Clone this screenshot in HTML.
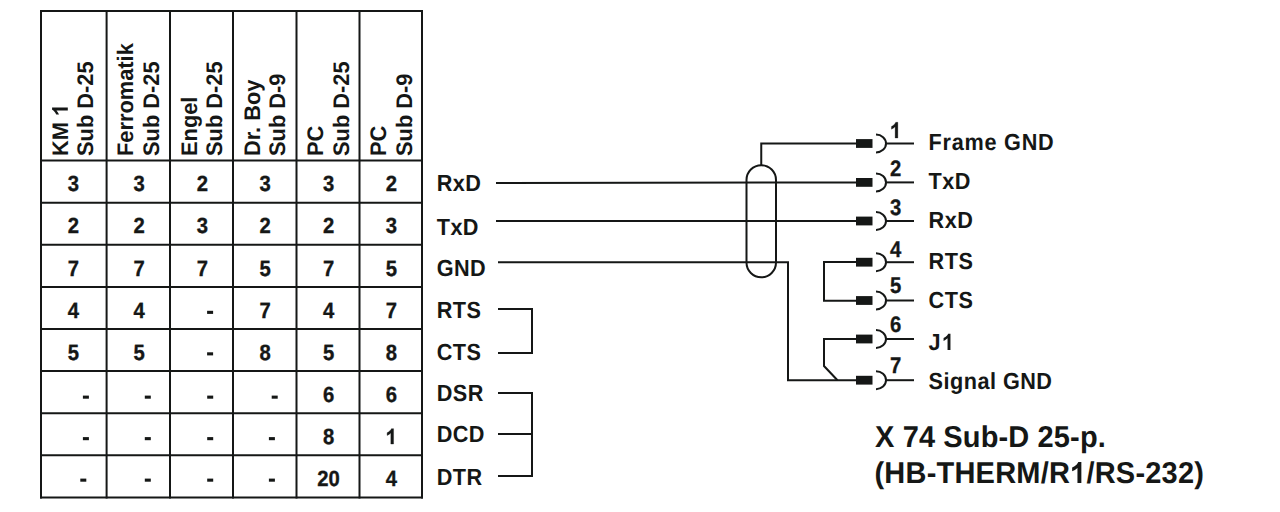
<!DOCTYPE html>
<html><head><meta charset="utf-8"><style>
html,body{margin:0;padding:0;background:#fff;width:1280px;height:512px;overflow:hidden}
svg{display:block}
text{font-family:"Liberation Sans",sans-serif;font-weight:bold;fill:#151716;stroke:none;text-rendering:geometricPrecision}
.h{font-size:22.5px}
.d{font-size:22px;stroke:#151716;stroke-width:0.35px}
.l{font-size:23.3px;letter-spacing:0.4px}
.l2{font-size:23.3px;letter-spacing:0.5px}
.n{font-size:22.5px;stroke:#151716;stroke-width:0.3px}
.t{font-size:30px}
.t1{letter-spacing:0.13px}
.t2{letter-spacing:0.21px}
.one{fill-opacity:0;stroke-opacity:0}
.fg{letter-spacing:0.8px}
</style></head><body>
<svg width="1280" height="512" viewBox="0 0 1280 512">
<g stroke="#151716" stroke-width="2" fill="none">
<line x1="41" y1="10" x2="41" y2="498.4"/>
<line x1="106.6" y1="10" x2="106.6" y2="498.4"/>
<line x1="170" y1="10" x2="170" y2="498.4"/>
<line x1="233" y1="10" x2="233" y2="498.4"/>
<line x1="296.5" y1="10" x2="296.5" y2="498.4"/>
<line x1="359.5" y1="10" x2="359.5" y2="498.4"/>
<line x1="422" y1="10" x2="422" y2="498.4"/>
<line x1="40" y1="11" x2="423" y2="11"/>
<line x1="40" y1="160.6" x2="423" y2="160.6"/>
<line x1="40" y1="202.7" x2="423" y2="202.7"/>
<line x1="40" y1="244.8" x2="423" y2="244.8"/>
<line x1="40" y1="286.9" x2="423" y2="286.9"/>
<line x1="40" y1="329.0" x2="423" y2="329.0"/>
<line x1="40" y1="371.1" x2="423" y2="371.1"/>
<line x1="40" y1="413.2" x2="423" y2="413.2"/>
<line x1="40" y1="455.3" x2="423" y2="455.3"/>
<line x1="40" y1="497.4" x2="423" y2="497.4"/>
<text class="h" transform="translate(67.8,156) rotate(-90) scale(0.97,1)">KM <tspan class="one">1</tspan></text>
<text class="h" transform="translate(93.3,156) rotate(-90) scale(0.97,1)">Sub D-25</text>
<text class="h" transform="translate(133.4,156) rotate(-90) scale(0.97,1)">Ferromatik</text>
<text class="h" transform="translate(158.9,156) rotate(-90) scale(0.97,1)">Sub D-25</text>
<text class="h" transform="translate(196.8,156) rotate(-90) scale(0.97,1)">Engel</text>
<text class="h" transform="translate(222.3,156) rotate(-90) scale(0.97,1)">Sub D-25</text>
<text class="h" transform="translate(259.8,156) rotate(-90) scale(0.97,1)">Dr. Boy</text>
<text class="h" transform="translate(285.3,156) rotate(-90) scale(0.97,1)">Sub D-9</text>
<text class="h" transform="translate(323.3,156) rotate(-90) scale(0.97,1)">PC</text>
<text class="h" transform="translate(348.8,156) rotate(-90) scale(0.97,1)">Sub D-25</text>
<text class="h" transform="translate(386.3,156) rotate(-90) scale(0.97,1)">PC</text>
<text class="h" transform="translate(411.8,156) rotate(-90) scale(0.97,1)">Sub D-9</text>
<text class="d" transform="translate(73.3,191) scale(0.92,1)" text-anchor="middle">3</text>
<text class="d" transform="translate(139.20000000000002,191) scale(0.92,1)" text-anchor="middle">3</text>
<text class="d" transform="translate(202.5,191) scale(0.92,1)" text-anchor="middle">2</text>
<text class="d" transform="translate(265.05,191) scale(0.92,1)" text-anchor="middle">3</text>
<text class="d" transform="translate(328.6,191) scale(0.92,1)" text-anchor="middle">3</text>
<text class="d" transform="translate(391.35,191) scale(0.92,1)" text-anchor="middle">2</text>
<text class="d" transform="translate(73.3,233) scale(0.92,1)" text-anchor="middle">2</text>
<text class="d" transform="translate(139.20000000000002,233) scale(0.92,1)" text-anchor="middle">2</text>
<text class="d" transform="translate(202.5,233) scale(0.92,1)" text-anchor="middle">3</text>
<text class="d" transform="translate(265.05,233) scale(0.92,1)" text-anchor="middle">2</text>
<text class="d" transform="translate(328.6,233) scale(0.92,1)" text-anchor="middle">2</text>
<text class="d" transform="translate(391.35,233) scale(0.92,1)" text-anchor="middle">3</text>
<text class="d" transform="translate(73.3,276) scale(0.92,1)" text-anchor="middle">7</text>
<text class="d" transform="translate(139.20000000000002,276) scale(0.92,1)" text-anchor="middle">7</text>
<text class="d" transform="translate(202.5,276) scale(0.92,1)" text-anchor="middle">7</text>
<text class="d" transform="translate(265.05,276) scale(0.92,1)" text-anchor="middle">5</text>
<text class="d" transform="translate(328.6,276) scale(0.92,1)" text-anchor="middle">7</text>
<text class="d" transform="translate(391.35,276) scale(0.92,1)" text-anchor="middle">5</text>
<text class="d" transform="translate(73.3,318) scale(0.92,1)" text-anchor="middle">4</text>
<text class="d" transform="translate(139.20000000000002,318) scale(0.92,1)" text-anchor="middle">4</text>
<rect x="207.1" y="310.8" width="6" height="3.1" fill="#151716" stroke="none"/>
<text class="d" transform="translate(265.05,318) scale(0.92,1)" text-anchor="middle">7</text>
<text class="d" transform="translate(328.6,318) scale(0.92,1)" text-anchor="middle">4</text>
<text class="d" transform="translate(391.35,318) scale(0.92,1)" text-anchor="middle">7</text>
<text class="d" transform="translate(73.3,360) scale(0.92,1)" text-anchor="middle">5</text>
<text class="d" transform="translate(139.20000000000002,360) scale(0.92,1)" text-anchor="middle">5</text>
<rect x="207.1" y="352.3" width="6" height="3.1" fill="#151716" stroke="none"/>
<text class="d" transform="translate(265.05,360) scale(0.92,1)" text-anchor="middle">8</text>
<text class="d" transform="translate(328.6,360) scale(0.92,1)" text-anchor="middle">5</text>
<text class="d" transform="translate(391.35,360) scale(0.92,1)" text-anchor="middle">8</text>
<rect x="82.9" y="395.6" width="6" height="3.1" fill="#151716" stroke="none"/>
<rect x="144.8" y="395.6" width="6" height="3.1" fill="#151716" stroke="none"/>
<rect x="207.2" y="395.6" width="6" height="3.1" fill="#151716" stroke="none"/>
<rect x="271.7" y="395.6" width="6" height="3.1" fill="#151716" stroke="none"/>
<text class="d" transform="translate(328.6,402) scale(0.92,1)" text-anchor="middle">6</text>
<text class="d" transform="translate(391.35,402) scale(0.92,1)" text-anchor="middle">6</text>
<rect x="82.9" y="437.1" width="6" height="3.1" fill="#151716" stroke="none"/>
<rect x="144.8" y="437.1" width="6" height="3.1" fill="#151716" stroke="none"/>
<rect x="207.2" y="437.1" width="6" height="3.1" fill="#151716" stroke="none"/>
<rect x="268.9" y="437.1" width="6" height="3.1" fill="#151716" stroke="none"/>
<text class="d" transform="translate(328.6,444) scale(0.92,1)" text-anchor="middle">8</text>
<text class="d" transform="translate(391.35,444) scale(0.92,1)" text-anchor="middle"><tspan class="one">1</tspan></text>
<rect x="80.3" y="478.6" width="6" height="3.1" fill="#151716" stroke="none"/>
<rect x="144.8" y="478.6" width="6" height="3.1" fill="#151716" stroke="none"/>
<rect x="207.2" y="478.6" width="6" height="3.1" fill="#151716" stroke="none"/>
<rect x="268.9" y="478.6" width="6" height="3.1" fill="#151716" stroke="none"/>
<text class="d" transform="translate(328.6,486) scale(0.92,1)" text-anchor="middle">20</text>
<text class="d" transform="translate(391.35,486) scale(0.92,1)" text-anchor="middle">4</text>
<text class="l" transform="translate(436.8,191) scale(0.93,1)">RxD</text>
<text class="l" transform="translate(436.8,235) scale(0.93,1)">TxD</text>
<text class="l" transform="translate(436.8,276) scale(0.93,1)">GND</text>
<text class="l" transform="translate(436.8,318) scale(0.93,1)">RTS</text>
<text class="l" transform="translate(436.8,360) scale(0.93,1)">CTS</text>
<text class="l" transform="translate(436.8,401) scale(0.93,1)">DSR</text>
<text class="l" transform="translate(436.8,442) scale(0.93,1)">DCD</text>
<text class="l" transform="translate(436.8,485) scale(0.93,1)">DTR</text>
<line x1="496" y1="183" x2="857" y2="182.4"/>
<line x1="496" y1="221" x2="857" y2="221"/>
<polyline points="498,262.2 788,262.2 788,380.2 857,380.2" fill="none"/>
<polyline points="498,309 532,309 532,353 498,353" fill="none"/>
<polyline points="498,393 532,393 532,476 498,476" fill="none"/>
<line x1="498" y1="434" x2="532" y2="434"/>
<path d="M746.5,262.5 V180 A14.75,14.75 0 0 1 776,180 V262.5 A14.75,14.75 0 0 1 746.5,262.5 Z" fill="none"/>
<polyline points="761.25,165.5 761.25,143.5 857,143.5" fill="none"/>
<polyline points="857,262 824,262 824,300.8 857,300.8" fill="none"/>
<polyline points="857,339 824,339 824,366 837.5,380.2" fill="none"/>
<rect x="856" y="139.1" width="16.5" height="8.8" fill="#151716" stroke="none"/>
<path d="M876,134.5 A10,9 0 0 1 876,152.5" fill="none"/>
<line x1="885" y1="143.5" x2="914" y2="143.5"/>
<text class="n" transform="translate(890,138) scale(0.9,1)"><tspan class="one">1</tspan></text>
<text class="l2 fg" transform="translate(928.6,150) scale(0.93,1)">Frame GND</text>
<rect x="856" y="178.0" width="16.5" height="8.8" fill="#151716" stroke="none"/>
<path d="M876,173.4 A10,9 0 0 1 876,191.4" fill="none"/>
<line x1="885" y1="182.4" x2="914" y2="182.4"/>
<text class="n" transform="translate(890,176) scale(0.9,1)">2</text>
<text class="l2" transform="translate(928.6,189) scale(0.93,1)">TxD</text>
<rect x="856" y="216.6" width="16.5" height="8.8" fill="#151716" stroke="none"/>
<path d="M876,212 A10,9 0 0 1 876,230" fill="none"/>
<line x1="885" y1="221" x2="914" y2="221"/>
<text class="n" transform="translate(890,215) scale(0.9,1)">3</text>
<text class="l2" transform="translate(928.6,228) scale(0.93,1)">RxD</text>
<rect x="856" y="257.8" width="16.5" height="8.8" fill="#151716" stroke="none"/>
<path d="M876,253.2 A10,9 0 0 1 876,271.2" fill="none"/>
<line x1="885" y1="262.2" x2="914" y2="262.2"/>
<text class="n" transform="translate(890,257) scale(0.9,1)">4</text>
<text class="l2" transform="translate(928.6,269) scale(0.93,1)">RTS</text>
<rect x="856" y="296.1" width="16.5" height="8.8" fill="#151716" stroke="none"/>
<path d="M876,291.5 A10,9 0 0 1 876,309.5" fill="none"/>
<line x1="885" y1="300.5" x2="914" y2="300.5"/>
<text class="n" transform="translate(890,293) scale(0.9,1)">5</text>
<text class="l2" transform="translate(928.6,308) scale(0.93,1)">CTS</text>
<rect x="856" y="334.6" width="16.5" height="8.8" fill="#151716" stroke="none"/>
<path d="M876,330 A10,9 0 0 1 876,348" fill="none"/>
<line x1="885" y1="339" x2="914" y2="339"/>
<text class="n" transform="translate(890,332) scale(0.9,1)">6</text>
<text class="l2" transform="translate(928.6,350) scale(0.93,1)">J<tspan class="one">1</tspan></text>
<rect x="856" y="375.8" width="16.5" height="8.8" fill="#151716" stroke="none"/>
<path d="M876,371.2 A10,9 0 0 1 876,389.2" fill="none"/>
<line x1="885" y1="380.2" x2="914" y2="380.2"/>
<text class="n" transform="translate(890,373) scale(0.9,1)">7</text>
<text class="l2" transform="translate(928.6,389) scale(0.93,1)">Signal GND</text>
<text class="t t1" transform="translate(875,447.3) scale(0.967,1)">X 74 Sub-D 25-p.</text>
<text class="t t2" transform="translate(874.5,483) scale(0.967,1)">(HB-THERM/R<tspan class="one">1</tspan>/RS-232)</text>
</g>
<g fill="#151716" stroke="none"><path transform="matrix(0.00000,-0.01066,-0.01099,0.00000,67.800,115.987)" d="M794,0 L519,0 L519,1030 Q350,880 144,800 L144,1050 Q330,1130 450,1250 Q540,1340 580,1430 L794,1430 Z"/><path transform="matrix(0.00988,0.00000,0.00000,-0.01074,385.715,444.000)" stroke="#151716" stroke-width="32.6" d="M794,0 L519,0 L519,1030 Q350,880 144,800 L144,1050 Q330,1130 450,1250 Q540,1340 580,1430 L794,1430 Z"/><path transform="matrix(0.00989,0.00000,0.00000,-0.01099,890.000,138.000)" stroke="#151716" stroke-width="27.3" d="M794,0 L519,0 L519,1030 Q350,880 144,800 L144,1050 Q330,1130 450,1250 Q540,1340 580,1430 L794,1430 Z"/><path transform="matrix(0.01058,0.00000,0.00000,-0.01138,942.056,350.000)" d="M794,0 L519,0 L519,1030 Q350,880 144,800 L144,1050 Q330,1130 450,1250 Q540,1340 580,1430 L794,1430 Z"/><path transform="matrix(0.01417,0.00000,0.00000,-0.01465,1070.106,483.000)" d="M794,0 L519,0 L519,1030 Q350,880 144,800 L144,1050 Q330,1130 450,1250 Q540,1340 580,1430 L794,1430 Z"/></g>
</svg>
</body></html>
